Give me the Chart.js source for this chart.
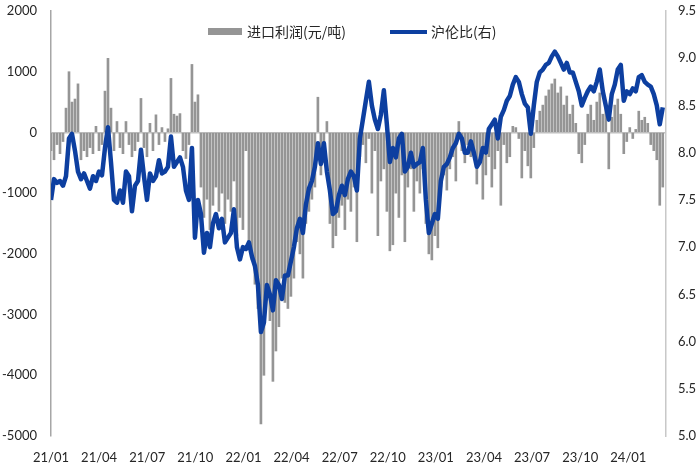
<!DOCTYPE html>
<html>
<head>
<meta charset="utf-8">
<script src="https://cdn.jsdelivr.net/npm/chart.js@4"></script>
<style>
  html, body { margin: 0; padding: 0; background: #fff; }
  #wrap { position: relative; width: 700px; height: 467px; }
  #c { position: absolute; left: 0; top: 0; }
  .lg { position: absolute; font-family: "Noto Sans CJK SC", sans-serif; font-size: 14px; color: #262626; line-height: 16px; white-space: nowrap; }
  .sw { position: absolute; }
</style>
</head>
<body>
<div id="wrap">
  <canvas id="c" width="700" height="467"></canvas>
  <div class="sw" id="sw1" style="left:208px;top:28px;width:34px;height:7px;"></div>
  <div class="lg" id="lg1" style="left:247px;top:23px;"></div>
  <div class="sw" id="sw2" style="left:390px;top:30px;width:37px;height:4px;"></div>
  <div class="lg" id="lg2" style="left:431px;top:23px;"></div>
</div>
<script>
// Sampling cadence of the series (months between samples, ~5.7 calendar days)
const sampleStepMonths = 0.187;

// Quarter tick positions (months since 2021-01) and their labels
const tickMonths = [0, 3, 6, 9, 12, 15, 18, 21, 24, 27, 30, 33, 36];
const tickLabels = ['21/01','21/04','21/07','21/10','22/01','22/04','22/07','22/10','23/01','23/04','23/07','23/10','24/01'];

const leftTicks = [-5000, -4000, -3000, -2000, -1000, 0, 1000, 2000];
const rightTicks = [5, 5.5, 6, 6.5, 7, 7.5, 8, 8.5, 9, 9.5];

const seriesNames = ['进口利润(元/吨)', '沪伦比(右)'];

// Import profit (yuan/ton)
const importProfit = [
 -300,-450,-200,-350,-150,400,1000,500,550,800,
 -450,-300,-400,-250,-350,100,-300,-200,680,1220,
 400,-300,180,-250,-350,180,-200,-400,-300,-150,
 560,-250,-400,150,-300,290,-200,80,-150,60,
 890,300,270,310,-300,-430,-200,1120,500,620,
 -900,-1400,-1100,-1600,-1200,-900,-1300,-1000,-1500,-1100,
 -1300,-800,-1700,-1400,-1600,-300,-1800,-2100,-2500,-2900,
 -4800,-4000,-2600,-3100,-4100,-3600,-3200,-2400,-2800,-2900,
 -2700,-2400,-1800,-2000,-2400,-1500,-1300,-1100,-900,580,
 -700,-500,180,-1500,-1900,-1700,-1400,-1200,-1600,-1100,
 -1300,-900,-1800,-400,-200,-500,-100,-1000,-300,-1700,
 -800,-600,-1300,-1950,-1850,-1000,-1400,-700,-1800,-900,
 -600,-1300,-800,-1000,-600,-1500,-2000,-2100,-1700,-1900,
 -900,-700,-950,-600,-400,-800,180,-300,-500,-200,
 -400,-300,-850,-500,-1100,-700,-400,-900,-600,-300,
 -1200,-200,-500,-400,100,80,-100,-750,-300,-550,
 -750,-250,200,350,450,600,700,800,880,650,
 750,450,600,300,450,150,-350,-500,-200,300,
 450,200,500,650,300,400,-600,250,450,550,
 300,-350,-150,80,-100,50,350,200,250,150,
 -200,-300,-450,-1200,-900
];

// SHFE/LME ratio (right axis)
const ratio = [
 7.5,7.72,7.68,7.7,7.65,7.75,8.15,8.2,8.02,7.8,
 7.72,7.78,7.7,7.62,7.75,7.7,7.8,7.76,8.05,8.27,
 7.9,7.5,7.47,7.6,7.47,7.8,7.75,7.38,7.65,7.7,
 8.03,7.75,7.5,7.78,7.7,7.75,7.92,7.78,7.8,7.85,
 8.17,7.85,7.9,7.95,7.85,7.6,7.5,8.05,7.1,7.5,
 7.35,6.94,7.15,7.0,7.25,7.35,7.2,7.3,7.05,7.1,
 7.15,7.4,7.0,6.87,7.0,6.98,7.05,6.9,6.8,6.6,
 6.1,6.2,6.6,6.5,6.33,6.65,6.6,6.45,6.7,6.7,
 6.85,7.0,7.2,7.3,7.15,7.45,7.62,7.7,7.85,8.1,
 7.88,8.1,7.8,7.6,7.35,7.38,7.55,7.65,7.55,7.72,
 7.8,7.75,7.6,8.15,8.35,8.55,8.75,8.5,8.35,8.25,
 8.4,8.66,8.3,7.9,8.05,7.95,8.15,8.2,7.8,7.85,
 8.0,7.85,7.88,7.9,8.05,7.5,7.15,7.25,7.35,7.3,
 7.7,7.85,7.88,7.95,8.05,8.1,8.2,8.15,8.0,8.0,
 8.12,8.0,7.85,7.9,8.05,8.0,8.25,8.3,8.35,8.15,
 8.38,8.45,8.55,8.6,8.72,8.8,8.75,8.62,8.52,8.48,
 8.2,8.5,8.75,8.85,8.88,8.93,8.95,9.02,9.07,9.02,
 8.95,8.88,8.95,8.85,8.85,8.75,8.65,8.5,8.58,8.65,
 8.7,8.65,8.75,8.88,8.65,8.5,8.35,8.62,8.72,8.88,
 8.93,8.55,8.65,8.62,8.68,8.65,8.8,8.82,8.75,8.72,
 8.7,8.62,8.5,8.3,8.48
];

const barColor = '#959595';
const lineColor = '#0D3FA0';
const textColor = '#262626';

document.getElementById('sw1').style.background = barColor;
document.getElementById('sw2').style.background = lineColor;
document.getElementById('lg1').textContent = seriesNames[0];
document.getElementById('lg2').textContent = seriesNames[1];

const profitPts = importProfit.map((v, i) => ({ x: i * sampleStepMonths, y: v }));
const ratioPts = ratio.map((v, i) => ({ x: i * sampleStepMonths, y: v }));

const tickFont = { family: 'Lato', size: 13 };

function noPad(s) {
  s.paddingTop = 0; s.paddingBottom = 0; s.paddingLeft = 0; s.paddingRight = 0;
}

new Chart(document.getElementById('c'), {
  type: 'bar',
  data: {
    datasets: [
      {
        type: 'line',
        label: seriesNames[1],
        data: ratioPts,
        yAxisID: 'y1',
        borderColor: lineColor,
        backgroundColor: lineColor,
        borderWidth: 4.5,
        pointRadius: 0,
        tension: 0,
        borderJoinStyle: 'round',
        order: 0
      },
      {
        type: 'bar',
        label: seriesNames[0],
        data: profitPts,
        yAxisID: 'y',
        backgroundColor: barColor,
        borderWidth: 0,
        barThickness: 2,
        order: 1
      }
    ]
  },
  options: {
    responsive: false,
    animation: false,
    devicePixelRatio: 1,
    layout: { padding: { top: 11, left: 0, right: 0, bottom: 0 } },
    plugins: { legend: { display: false }, tooltip: { enabled: false } },
    scales: {
      x: {
        type: 'linear',
        min: 0,
        max: 38.35,
        offset: false,
        grid: { display: false, drawTicks: false },
        border: { display: false },
        afterBuildTicks: (s) => { s.ticks = tickMonths.map(v => ({ value: v })); },
        afterFit: (s) => { s.height = 31; noPad(s); },
        ticks: {
          autoSkip: false,
          maxRotation: 0,
          padding: 14,
          color: textColor,
          font: tickFont,
          callback: (v) => { const i = tickMonths.indexOf(v); return i >= 0 ? tickLabels[i] : ''; }
        }
      },
      y: {
        position: 'left',
        min: -5000,
        max: 2000,
        afterBuildTicks: (s) => { s.ticks = leftTicks.map(v => ({ value: v })); },
        afterFit: (s) => { s.width = 51; noPad(s); },
        grid: {
          drawTicks: false,
          color: (ctx) => (ctx.tick && ctx.tick.value === 0) ? '#BFBFBF' : 'rgba(0,0,0,0)',
          lineWidth: 1.5
        },
        border: { display: true, color: '#A6A6A6', width: 1.5 },
        ticks: { padding: 14, color: textColor, font: tickFont, callback: (v) => String(v) }
      },
      y1: {
        position: 'right',
        min: 5,
        max: 9.5,
        afterBuildTicks: (s) => { s.ticks = rightTicks.map(v => ({ value: v })); },
        afterFit: (s) => { s.width = 34; noPad(s); },
        grid: { display: false, drawTicks: false },
        border: { display: true, color: '#C8C8C8', width: 1.5 },
        ticks: { padding: 12, color: textColor, font: tickFont, callback: (v) => Number(v).toFixed(1) }
      }
    }
  }
});
</script>
</body>
</html>
